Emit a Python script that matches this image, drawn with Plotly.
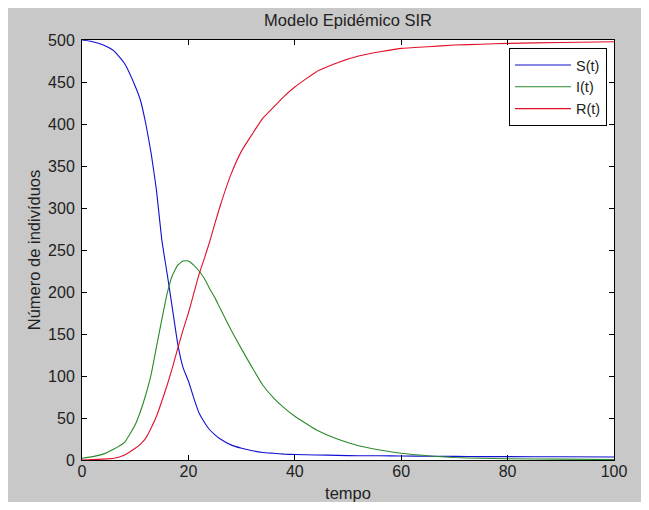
import plotly.graph_objects as go

# Time grid (tempo)
t = [0, 2, 4, 6, 8, 10, 11, 12, 13, 14, 15, 16, 17, 18, 19, 20, 21, 22, 23, 24, 25, 26,
     28, 30, 32, 34, 36, 38, 40, 44, 48, 52, 56, 60, 65, 70, 75, 80, 90, 100]

S = [500, 498, 494, 487, 472, 445, 428, 400, 365, 321, 262, 222, 180, 138, 110, 94, 74, 56, 45, 36, 30, 25,
     18, 14, 11, 9, 8, 7, 6.5, 6, 5.5, 5, 5, 4.8, 4.5, 4.3, 4, 4, 3.8, 3.5]

I = [2, 4, 7, 13, 21, 42, 58, 78, 102, 135, 167, 198, 220, 232, 237, 237, 232, 225, 216, 204, 193, 180,
     155, 132, 110, 89, 74, 62, 52, 36, 25, 17, 12, 8, 5, 3, 2, 1.5, 1, 0.5]

R = [0, 0.5, 1, 2, 6, 14, 19, 26, 38, 52, 70, 89, 110, 133, 155, 175, 198, 221, 240, 260, 282, 303,
     340, 368, 388, 407, 420, 433, 444, 462, 473, 481, 486, 490, 492, 494, 495, 496, 497, 498]

series_names = ["S(t)", "I(t)", "R(t)"]
series_colors = ["#1010d0", "#2a8a2a", "#e01028"]

W, H = 633, 494
L, Rm, T, B = 74, 27, 32, 42
pw, ph = W - L - Rm, H - T - B

fig = go.Figure()
for name, ys, col in zip(series_names, [S, I, R], series_colors):
    fig.add_trace(go.Scatter(x=t, y=ys, mode="lines", name=name,
                             line=dict(color=col, width=1.1, shape="spline", smoothing=0.4)))

font_family = "Liberation Sans, Arial, sans-serif"
txt = "#222222"
axis_common = dict(showline=True, linecolor="black", linewidth=1, mirror="ticks",
                   ticks="inside", ticklen=5, tickcolor="black", tickwidth=1,
                   showgrid=False, zeroline=False, automargin=False,
                   tickfont=dict(family=font_family, size=16, color=txt))

fig.update_layout(
    width=W, height=H,
    margin=dict(l=L, r=Rm, t=T, b=B, pad=0),
    paper_bgcolor="#c8c8c8",
    plot_bgcolor="white",
    title=dict(text="Modelo Epidémico SIR", x=(L + pw / 2) / W, xanchor="center",
               y=1 - 12 / H, yanchor="middle",
               font=dict(family=font_family, size=16.5, color=txt)),
    xaxis=dict(range=[0, 100], dtick=20, tick0=0, ticklabelstandoff=-3,
               title=dict(text="tempo", standoff=9,
                          font=dict(family=font_family, size=16.5, color=txt)),
               **axis_common),
    yaxis=dict(range=[0, 500], dtick=50, tick0=0, ticklabelstandoff=3,
               title=dict(text="Número de indivíduos", standoff=3,
                          font=dict(family=font_family, size=16.5, color=txt)),
               **axis_common),
    legend=dict(x=(599 - L) / pw, xanchor="right", y=(H - B - 40) / ph, yanchor="top",
                bgcolor="white", bordercolor="black", borderwidth=1,
                font=dict(family=font_family, size=14.5, color=txt),
                itemwidth=56, tracegroupgap=0),
    showlegend=True,
)

fig.write_html("out.html")
